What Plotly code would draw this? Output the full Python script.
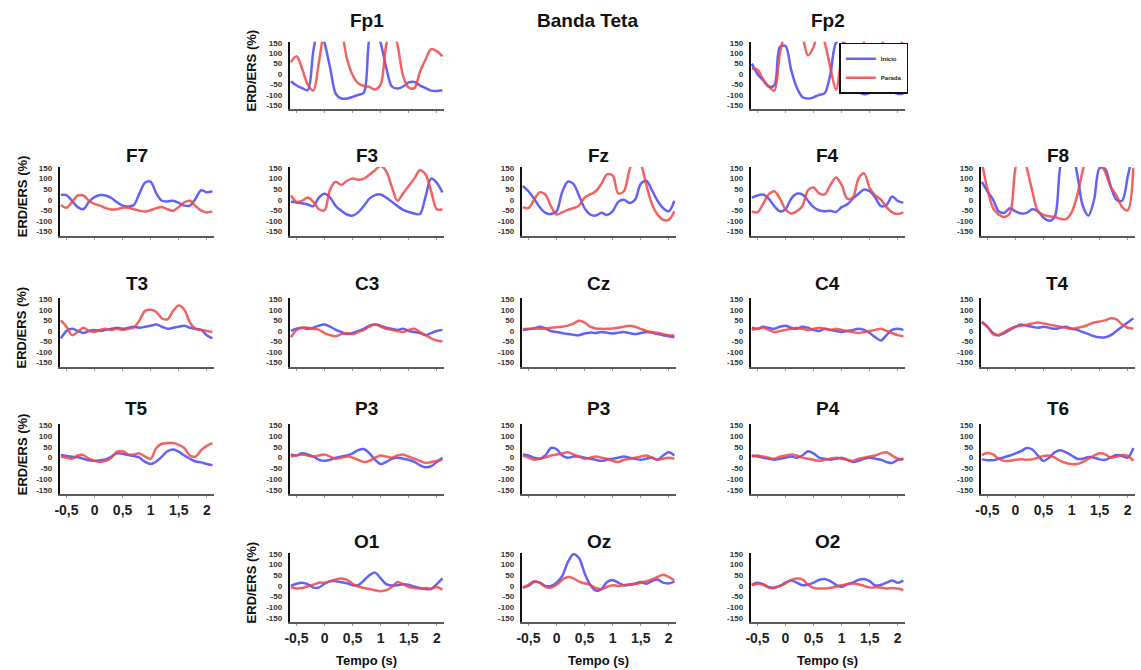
import plotly.graph_objects as go

# Time axis (s)
TEMPO = [-0.6, -0.5, -0.4, -0.3, -0.2, -0.1, 0.0, 0.1, 0.2, 0.3, 0.4, 0.5, 0.6, 0.7,
         0.8, 0.9, 1.0, 1.1, 1.2, 1.3, 1.4, 1.5, 1.6, 1.7, 1.8, 1.9, 2.0, 2.1]

Y_TICKS = [150, 100, 50, 0, -50, -100, -150]
Y_TICK_TEXT = ["150", "100", "50", "0", "-50", "-100", "-150"]
X_TICKS = [-0.5, 0, 0.5, 1, 1.5, 2]
X_TICK_TEXT = ["-0,5", "0", "0,5", "1", "1,5", "2"]

SERIES_NAMES = ["Início", "Parada"]

# ERD/ERS (%) per electrode: "Início" (blue) and "Parada" (red)
FP1_INICIO = [-35, -55, -68, -78, 110, 230, 150, 30, -95, -118, -118, -110, -100, -90,
              170, 230, 150, 30, -60, -70, -60, -40, -38, -55, -68, -80, -82, -78]
FP1_PARADA = [57, 85, 26, -50, -80, 57, 200, 230, 230, 200, 72, -5, -45, -58,
              -62, -75, -50, 140, 220, 140, -10, -65, -68, 10, 70, 120, 110, 85]
FP2_INICIO = [50, 0, -30, -60, -55, 130, 135, 20, -65, -110, -118, -112, -100, -92,
              0, 150, 165, 40, -40, -85, -97, -90, -75, -65, -70, -85, -95, -95]
FP2_PARADA = [25, 20, -25, -60, -80, 100, 200, 230, 230, 180, 90, 130, 220, 150,
              30, -75, 80, 200, 230, 220, 150, 10, -85, 100, 220, 230, 200, 130]
F7_INICIO = [23, 22, -5, -35, -45, -10, 12, 22, 20, 8, -12, -28, -32, -25,
             30, 80, 85, 30, -5, -8, -5, -15, -28, -28, 5, 45, 35, 40]
F7_PARADA = [-25, -38, -10, 20, 20, -5, -20, -28, -40, -46, -45, -38, -38, -45,
             -52, -56, -50, -40, -35, -45, -52, -35, -12, -5, -30, -52, -60, -55]
F3_INICIO = [-10, -13, -17, -23, -30, 10, 28, 10, -30, -52, -70, -75, -60, -30,
             5, 22, 25, 10, -10, -30, -48, -58, -65, -68, 15, 100, 80, 35]
F3_PARADA = [20, -10, -5, 10, -10, -45, -50, 50, 85, 70, 90, 100, 95, 100,
             118, 140, 160, 135, 60, -5, 30, 65, 100, 140, 120, 40, -45, -45]
FZ_INICIO = [65, 40, 5, -35, -62, -68, -55, 35, 85, 75, 20, -40, -70, -75,
             -62, -72, -55, -10, 0, -15, 0, 75, 90, 45, -5, -40, -55, -5]
FZ_PARADA = [-35, -40, 0, 35, 25, -30, -70, -60, -48, -40, -28, 10, 25, 40,
             75, 120, 115, 30, 40, 140, 200, 170, 70, -20, -70, -95, -95, -55]
F4_INICIO = [10, 20, 25, 5, -30, -55, -45, 5, 28, 25, -5, -35, -50, -55,
             -52, -58, -35, -22, 5, 28, 48, 40, 10, -30, -25, 15, -5, -15]
F4_PARADA = [-55, -60, -20, 25, 40, 5, -45, -65, -55, -30, 45, 58, 30, 25,
             70, 105, 70, 5, 10, 100, 125, 55, 20, 0, -35, -60, -68, -60]
F8_INICIO = [85, 40, 0, -55, -62, -40, -55, -65, -62, -45, -55, -85, -100, -80,
             160, 230, 230, 120, -30, -75, 0, 150, 145, 60, 0, -5, 110, 230]
F8_PARADA = [180, 50, -40, -70, -82, -65, 150, 220, 150, 40, -55, -72, -78, -82,
             -90, -92, -60, 20, 140, 230, 230, 180, 130, 60, 20, -35, -50, 150]
T3_INICIO = [-35, 0, 10, 0, -10, 0, 5, 0, 5, 10, 15, 10, 15, 20,
             15, 20, 25, 30, 20, 10, 15, 20, 25, 15, 10, 5, -20, -35]
T3_PARADA = [50, 20, -20, -5, 15, 0, -5, 5, 10, 5, 10, 5, 10, 15,
             50, 95, 100, 90, 60, 55, 95, 120, 100, 40, 10, 5, 0, -5]
C3_INICIO = [0, 10, 15, 10, 15, 25, 30, 20, 5, -5, -15, -10, 0, 10,
             25, 30, 25, 15, 10, 5, 10, 0, -5, -10, -20, -10, 0, 5]
C3_PARADA = [-30, 5, 15, 15, 10, 5, -10, -20, -25, -15, -10, -15, -5, 5,
             20, 30, 20, 10, 5, 0, -5, 5, 10, -5, -20, -35, -45, -50]
CZ_INICIO = [5, 8, 12, 20, 12, 0, -5, -10, -15, -18, -20, -12, -8, -10,
             -5, -8, -12, -8, -5, -10, -15, -10, -5, -8, -15, -20, -25, -30]
CZ_PARADA = [8, 10, 12, 10, 12, 15, 18, 20, 25, 35, 48, 40, 20, 12,
             10, 10, 12, 15, 20, 25, 20, 10, 0, -5, -10, -15, -20, -22]
C4_INICIO = [15, 10, 20, 15, 10, 20, 25, 15, 10, 20, 15, 5, 0, 10,
             5, 0, -5, 0, 5, 10, 5, -10, -30, -45, -20, 5, 10, 5]
C4_PARADA = [5, 10, 15, 5, -5, 0, 5, 10, 15, 10, 5, 10, 15, 10,
             5, 10, 5, 0, -5, -10, -5, 0, 5, 10, 0, -10, -20, -25]
T4_INICIO = [40, 20, -10, -20, -10, 5, 20, 30, 25, 20, 15, 20, 15, 10,
             15, 20, 10, 5, -5, -15, -25, -30, -30, -20, 0, 20, 40, 60]
T4_PARADA = [45, 20, -15, -20, -5, 10, 20, 25, 30, 35, 40, 35, 30, 25,
             20, 15, 10, 15, 20, 30, 40, 45, 50, 60, 55, 30, 15, 10]
T5_INICIO = [12, 8, 4, 2, -5, -12, -15, -12, -8, 5, 20, 18, 12, 8,
             0, -20, -30, -18, 5, 30, 38, 28, 10, -5, -18, -22, -30, -35]
T5_PARADA = [5, 0, -5, 10, 12, -5, -15, -20, -15, 0, 28, 30, 15, 15,
             20, 5, -5, 45, 65, 68, 68, 60, 45, 10, 5, 35, 55, 68]
P3_INICIO = [15, 10, 20, 15, 5, -10, -15, -10, 0, 5, 10, 20, 35, 40,
             20, -10, -30, -20, -5, 0, -5, -10, -20, -35, -45, -40, -20, 0]
P3_PARADA = [5, 10, 15, 10, 5, 10, 15, 5, -5, 0, 5, 0, -10, -20,
             -15, 0, 10, 5, 0, 10, 15, 5, -5, -15, -25, -20, -15, -10]
P3B_INICIO = [15, 10, 0, -5, 10, 45, 40, 10, 0, 5, 5, 0, -5, -10,
              -15, -10, -5, 0, 5, 0, -5, -10, -5, 0, -10, 10, 25, 10]
P3B_PARADA = [10, 0, -10, -5, 0, 10, 15, 20, 25, 15, 5, -5, 0, 5,
              0, -5, -15, -20, -10, -5, 0, 5, 10, 0, -10, -5, 0, -5]
P4_INICIO = [10, 5, 0, -5, -10, -5, 0, 5, 0, 10, 30, 20, 0, -5,
             -10, -5, 0, -10, -20, -15, -5, 0, -5, -10, -20, -25, -10, -5]
P4_PARADA = [5, 10, 5, 0, -5, 5, 10, 15, 10, 0, -5, -10, -15, -10,
             -5, 0, -5, -10, -15, -5, 0, 5, 10, 20, 25, 10, -5, -10]
T6_INICIO = [-8, -12, -12, -5, 2, 10, 20, 30, 45, 38, 10, -15, 0, 25,
             35, 25, 10, -5, -5, 3, 0, -8, -10, 2, 12, 8, 0, 45]
T6_PARADA = [12, 22, 15, -5, -15, -15, -10, -8, -10, -8, 0, 8, 10, 0,
             -15, -25, -30, -30, -20, -5, 10, 20, 15, 0, 5, 12, 8, -15]
O1_INICIO = [0, 10, 15, 8, -8, -8, 10, 22, 22, 17, 12, 3, 3, 25,
             50, 62, 35, 8, 2, 3, 8, 5, -3, -10, -15, -15, 8, 35]
O1_PARADA = [-5, -12, -10, -2, 5, 15, 15, 22, 30, 35, 28, 10, -3, -10,
             -15, -20, -25, -20, -5, 18, 8, -5, -10, -12, -10, -12, -5, -18]
OZ_INICIO = [-8, 0, 18, 15, 0, 0, 15, 45, 110, 148, 130, 60, 5, -22,
             -15, 18, 28, 15, 3, 5, 10, 18, 10, 22, 30, 15, 12, 20]
OZ_PARADA = [-8, 5, 22, 15, -5, -8, 5, 28, 42, 35, 20, 12, 5, -10,
             -15, -5, 3, 0, 3, 8, 10, 15, 22, 30, 42, 52, 42, 25]
O2_INICIO = [5, 15, 8, -5, -8, 0, 15, 25, 15, 3, 5, 15, 28, 32,
             22, 5, -5, 8, 15, 28, 32, 22, 2, 5, 15, 25, 15, 25]
O2_PARADA = [3, 10, 5, -8, -10, 0, 12, 28, 34, 30, 5, -10, -12, -12,
             -9, -3, 3, 8, 11, 8, 0, -8, -6, -8, -12, -10, -12, -20]

# (title, grid row, grid column, Início, Parada)
PANELS = [
    ("Fp1", 0, 1, FP1_INICIO, FP1_PARADA),
    ("Fp2", 0, 3, FP2_INICIO, FP2_PARADA),
    ("F7", 1, 0, F7_INICIO, F7_PARADA),
    ("F3", 1, 1, F3_INICIO, F3_PARADA),
    ("Fz", 1, 2, FZ_INICIO, FZ_PARADA),
    ("F4", 1, 3, F4_INICIO, F4_PARADA),
    ("F8", 1, 4, F8_INICIO, F8_PARADA),
    ("T3", 2, 0, T3_INICIO, T3_PARADA),
    ("C3", 2, 1, C3_INICIO, C3_PARADA),
    ("Cz", 2, 2, CZ_INICIO, CZ_PARADA),
    ("C4", 2, 3, C4_INICIO, C4_PARADA),
    ("T4", 2, 4, T4_INICIO, T4_PARADA),
    ("T5", 3, 0, T5_INICIO, T5_PARADA),
    ("P3", 3, 1, P3_INICIO, P3_PARADA),
    ("P3", 3, 2, P3B_INICIO, P3B_PARADA),
    ("P4", 3, 3, P4_INICIO, P4_PARADA),
    ("T6", 3, 4, T6_INICIO, T6_PARADA),
    ("O1", 4, 1, O1_INICIO, O1_PARADA),
    ("Oz", 4, 2, OZ_INICIO, OZ_PARADA),
    ("O2", 4, 3, O2_INICIO, O2_PARADA),
]

# ---- page geometry (pixels) ----
W, H = 1141, 670
COL_LEFT = [55, 286, 519, 749, 980]
COL_WIDTH = 155
ROW_TOP = [39, 165, 297, 424, 553]
ROW_BOTTOM = [107, 234, 366, 494, 623]
TITLE_Y = [18, 153, 282, 408, 542]
Y_RANGE = [-170, 155]
X_RANGE = [-0.62, 2.13]

FONT = "Liberation Sans, Arial, sans-serif"
BLUE = "rgba(70,70,250,0.85)"
RED = "rgba(240,70,70,0.85)"


def px_x(v):
    return v / W


def px_y(v):
    return 1 - v / H


fig = go.Figure()
annotations = []
layout_axes = {}

for i, (name, r, c, inicio, parada) in enumerate(PANELS, start=1):
    xa = "x" if i == 1 else f"x{i}"
    ya = "y" if i == 1 else f"y{i}"
    legend_here = name == "Fp2"
    for label, vals, color in ((SERIES_NAMES[0], inicio, BLUE), (SERIES_NAMES[1], parada, RED)):
        fig.add_trace(go.Scatter(
            x=TEMPO, y=vals, mode="lines", name=label,
            line=dict(color=color, width=2.5, shape="spline", smoothing=0.9),
            xaxis=xa, yaxis=ya, showlegend=legend_here, hoverinfo="skip",
        ))

    x0 = COL_LEFT[c]
    bottom_labels = (r == 4) or (r == 3 and c in (0, 4))
    layout_axes["xaxis" if i == 1 else f"xaxis{i}"] = dict(
        domain=[px_x(x0), px_x(x0 + COL_WIDTH)], anchor=ya, range=X_RANGE,
        showgrid=False, zeroline=False, showline=True, linecolor="#5a5a5a", linewidth=2,
        tickvals=X_TICKS, ticktext=X_TICK_TEXT, showticklabels=bottom_labels,
        ticks="outside", ticklen=2, tickwidth=1, tickcolor="#9a9a9a",
        tickfont=dict(family=FONT, size=14, color="#222", weight="bold"),
        ticklabelstandoff=0,
    )
    layout_axes["yaxis" if i == 1 else f"yaxis{i}"] = dict(
        domain=[px_y(ROW_BOTTOM[r]), px_y(ROW_TOP[r])], anchor=xa, range=Y_RANGE,
        showgrid=False, zeroline=False, showline=True, linecolor="#111", linewidth=2,
        tickvals=Y_TICKS, ticktext=Y_TICK_TEXT, ticks="",
        tickfont=dict(family=FONT, size=8, color="#333", weight="bold"),
        ticklabelstandoff=4,
    )

    cx = x0 + COL_WIDTH / 2
    annotations.append(dict(
        text=name, x=px_x(cx), y=px_y(TITLE_Y[r]), xref="paper", yref="paper",
        xanchor="center", yanchor="middle", showarrow=False,
        font=dict(family=FONT, size=19, color="#111", weight="bold"),
    ))
    if c == 0 or (c == 1 and r in (0, 4)):
        lx = 17 if c == 0 else 248
        ly = (ROW_TOP[r] + ROW_BOTTOM[r]) / 2 - 5
        annotations.append(dict(
            text="ERD/ERS (%)", x=px_x(lx), y=px_y(ly), xref="paper", yref="paper",
            xanchor="center", yanchor="middle", textangle=-90, showarrow=False,
            font=dict(family=FONT, size=13, color="#111", weight="bold"),
        ))
    if r == 4:
        annotations.append(dict(
            text="Tempo (s)", x=px_x(cx), y=px_y(661), xref="paper", yref="paper",
            xanchor="center", yanchor="middle", showarrow=False,
            font=dict(family=FONT, size=13, color="#111", weight="bold"),
        ))

annotations.append(dict(
    text="Banda Teta", x=px_x(585), y=px_y(18), xref="paper", yref="paper",
    xanchor="center", yanchor="middle", showarrow=False,
    font=dict(family=FONT, size=19, color="#111", weight="bold"),
))

fig.update_layout(
    width=W, height=H, margin=dict(l=0, r=0, t=0, b=0),
    paper_bgcolor="white", plot_bgcolor="white",
    annotations=annotations,
    legend=dict(
        x=px_x(838), y=px_y(40), xanchor="left", yanchor="top",
        bgcolor="white", bordercolor="#111", borderwidth=1.5,
        font=dict(family=FONT, size=6, color="#222", weight="bold"),
        itemwidth=30, tracegroupgap=0,
    ),
    **layout_axes,
)

fig.write_html("out.html")
